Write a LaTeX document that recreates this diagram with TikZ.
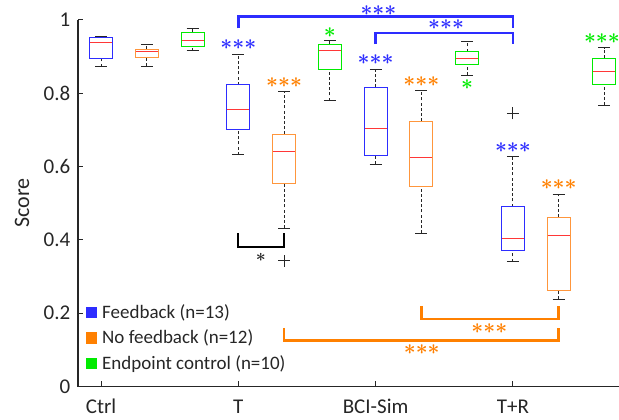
\documentclass[tikz,border=0pt]{standalone}
\usepackage{fontspec}
\setmainfont{Carlito}

\definecolor{fbblue}{RGB}{45,45,255}
\definecolor{nforange}{RGB}{255,128,0}
\definecolor{boxorange}{RGB}{255,150,60}
\definecolor{epgreen}{RGB}{0,235,0}
\definecolor{axisgray}{RGB}{38,38,38}
\definecolor{medred}{RGB}{255,55,55}

\tikzset{
  whisk/.style={axisgray, line width=0.9pt, dash pattern=on 3pt off 2.2pt},
  capline/.style={axisgray, line width=1pt},
  boxline/.style={line width=1pt},
  medline/.style={medred, line width=1pt},
  bracket/.style={line width=2.6pt, line join=miter},
  stars/.style={inner sep=0pt, font=\fontsize{20.5}{20.5}\selectfont\boldmath},
  ticklabel/.style={inner sep=0pt, font=\fontsize{21}{21}\selectfont, text=axisgray},
  legtext/.style={inner sep=0pt, anchor=base west, font=\fontsize{19}{19}\selectfont, text=axisgray},
  outlier/.style={axisgray, line width=0.9pt},
}

% one box plot: #1 x, #2 colour, #3 lower whisker, #4 q1, #5 median, #6 q3, #7 upper whisker
\newcommand\boxplt[7]{%
  \draw[whisk] (#1,#3) -- (#1,#4);
  \draw[whisk] (#1,#6) -- (#1,#7);
  \draw[capline] ([xshift=-6pt]#1,#3) -- ([xshift=6pt]#1,#3);
  \draw[capline] ([xshift=-6pt]#1,#7) -- ([xshift=6pt]#1,#7);
  \draw[boxline, #2] ([xshift=-11.5pt]#1,#4) rectangle ([xshift=11.5pt]#1,#6);
  \draw[medline] ([xshift=-11pt]#1,#5) -- ([xshift=11pt]#1,#5);
}
% outlier marker
\newcommand\plusmark[2]{%
  \draw[outlier] ([xshift=-6pt]#1,#2) -- ([xshift=6pt]#1,#2);
  \draw[outlier] ([yshift=-6pt]#1,#2) -- ([yshift=6pt]#1,#2);
}
\newcommand\threestars{$\mathord{\ast}\mathord{\ast}\mathord{\ast}$}
\newcommand\onestar{$\mathord{\ast}$}

\begin{document}
\begin{tikzpicture}[x=1pt, y=1pt]
\useasboundingbox (0,0) rectangle (619,420);

\begin{scope}[shift={(101,33.5)}, x=137.3pt, y=366.5pt]
  % axes
  \draw[axisgray, line width=1.2pt] (-0.1675,1) -- (-0.1675,0) -- (3.7727,0);
  \foreach \v/\t in {0/0, 0.2/0.2, 0.4/0.4, 0.6/0.6, 0.8/0.8, 1/1} {
    \draw[axisgray, line width=1pt] (-0.1675,\v) -- ([xshift=5pt]-0.1675,\v);
    \node[ticklabel, anchor=east] (ylab\t) at ([xshift=-7.5pt]-0.1675,\v) {\t};
  }
  \foreach \c/\t/\n in {0/Ctrl/ctrl, 1/T/t, 2/BCI-Sim/bci, 3/T+R/tr} {
    \draw[axisgray, line width=1pt] (\c,0) -- ([yshift=5pt]\c,0);
    \node[ticklabel, anchor=base] (xlab\n) at ([yshift=-27pt]\c,0) {\t};
  }

  % Ctrl
  \boxplt{0}{fbblue}{0.873}{0.896}{0.938}{0.952}{0.956}
  \boxplt{1/3}{boxorange}{0.874}{0.898}{0.914}{0.920}{0.934}
  \boxplt{2/3}{epgreen}{0.916}{0.928}{0.945}{0.966}{0.976}
  % T
  \boxplt{1}{fbblue}{0.632}{0.701}{0.756}{0.823}{0.907}
  \boxplt{4/3}{boxorange}{0.432}{0.555}{0.641}{0.688}{0.804}
  \boxplt{5/3}{epgreen}{0.780}{0.864}{0.916}{0.934}{0.945}
  % BCI-Sim
  \boxplt{2}{fbblue}{0.607}{0.630}{0.705}{0.816}{0.866}
  \boxplt{7/3}{boxorange}{0.418}{0.546}{0.624}{0.724}{0.807}
  \boxplt{8/3}{epgreen}{0.849}{0.879}{0.894}{0.914}{0.941}
  % T+R
  \boxplt{3}{fbblue}{0.341}{0.372}{0.404}{0.491}{0.627}
  \boxplt{10/3}{boxorange}{0.238}{0.263}{0.411}{0.462}{0.523}
  \boxplt{11/3}{epgreen}{0.767}{0.825}{0.860}{0.895}{0.924}

  % outliers
  \plusmark{4/3}{0.343}
  \plusmark{3}{0.745}

  % significance marks above boxes
  \node[stars, text=fbblue]   (sTb)  at (1,0.933)    {\threestars};
  \node[stars, text=nforange] (sTo)  at (4/3,0.828)  {\threestars};
  \node[stars, text=epgreen]  (sTg)  at (5/3,0.965)  {\onestar};
  \node[stars, text=fbblue]   (sBb)  at (2,0.893)    {\threestars};
  \node[stars, text=nforange] (sBo)  at (7/3,0.833)  {\threestars};
  \node[stars, text=epgreen]  (sBg)  at (8/3,0.825)  {\onestar};
  \node[stars, text=fbblue]   (sRb)  at (3,0.653)    {\threestars};
  \node[stars, text=nforange] (sRo)  at (10/3,0.551) {\threestars};
  \node[stars, text=epgreen]  (sRg)  at ([xshift=-2.5pt]11/3,0.948) {\threestars};

  % comparison brackets
  \draw[bracket, fbblue] (1,0.977) |- (3,1.0095) -- (3,0.977);
  \node[stars, text=fbblue] (sBr1) at (2.0206,1.025) {\threestars};
  \draw[bracket, fbblue] (2,0.934) |- (3,0.964) -- (3,0.934);
  \node[stars, text=fbblue] (sBr2) at (2.513,0.988) {\threestars};

  \draw[bracket, black, line width=2.2pt] (1,0.418) |- (4/3,0.381) -- (4/3,0.418);
  \node[stars, text=axisgray, font=\fontsize{19}{19}\selectfont\boldmath] (sBlk) at (1.165,0.352) {\onestar};

  \draw[bracket, nforange] (7/3,0.220) |- (10/3,0.184) -- (10/3,0.220);
  \node[stars, text=nforange] (sOr1) at (2.828,0.159) {\threestars};
  \draw[bracket, nforange] (4/3,0.160) |- (10/3,0.125) -- (10/3,0.160);
  \node[stars, text=nforange] (sOr2) at (2.336,0.1015) {\threestars};
\end{scope}

% y-axis title
\node[inner sep=0pt, rotate=90, font=\fontsize{22}{22}\selectfont, text=axisgray] (ytitle) at (22,217) {Score};

% legend
\fill[fbblue]   (86,101.7) rectangle (97.3,113.3);
\fill[nforange] (86,76)    rectangle (97.3,87.7);
\fill[epgreen]  (86,51)    rectangle (97.3,62.3);
\node[legtext] (legfb) at (102,101)  {Feedback (n=13)};
\node[legtext] (legnf) at (102,76)   {No feedback (n=12)};
\node[legtext] (legep) at (102,50.7) {Endpoint control (n=10)};
\end{tikzpicture}
\end{document}
